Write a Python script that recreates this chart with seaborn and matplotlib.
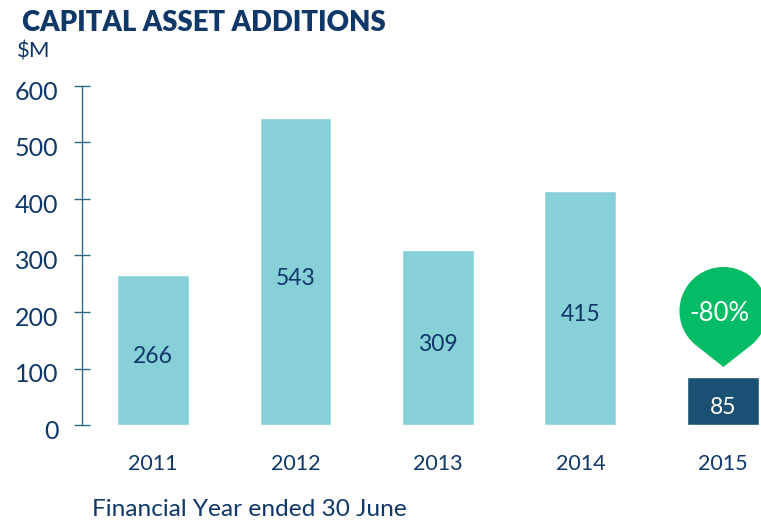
import numpy as np
import pandas as pd
import matplotlib
matplotlib.use('Agg')
import matplotlib.pyplot as plt
import seaborn as sns
from matplotlib.path import Path
from matplotlib.patches import PathPatch
from matplotlib.transforms import Affine2D, ScaledTranslation

years = ['2011', '2012', '2013', '2014', '2015']
additions = [266, 543, 309, 415, 85]
bar_colors = ['#87d0d7', '#87d0d7', '#87d0d7', '#87d0d7', '#1a5173']
y_ticks = [0, 100, 200, 300, 400, 500, 600]
change_label = '-80%'

NAVY = '#0f3768'
AXIS = '#2f6785'
GREEN = '#04bc66'

sns.set_theme(style='white')
plt.rcParams['font.family'] = ['Lato', 'DejaVu Sans']

W, H = 761, 520
fig = plt.figure(figsize=(W / 100, H / 100), dpi=100)
ax = fig.add_axes([81.5 / W, (H - 425) / H, (W - 81.5) / W, 339 / H])

df = pd.DataFrame({'Year': years, 'Additions': additions})
sns.barplot(data=df, x='Year', y='Additions', hue='Year', palette=bar_colors,
            width=0.505, saturation=1, legend=False, ax=ax)

ax.set_xlim(-0.502, 4.267)
ax.set_ylim(0, 600)
ax.set_yticks(y_ticks)
ax.set_xlabel('')
ax.set_ylabel('')
sns.despine(ax=ax, top=True, right=True, bottom=True)
ax.spines['left'].set_color(AXIS)
ax.spines['left'].set_linewidth(1)
ax.tick_params(axis='y', direction='inout', length=11, width=1, color=AXIS,
               pad=11, labelsize=18, labelcolor=NAVY, left=True)
ax.tick_params(axis='x', length=0, pad=21, labelsize=15.5, labelcolor=NAVY, bottom=False)

# old-style figures sit a bit below the tick
for lab in ax.get_yticklabels():
    lab.set_transform(lab.get_transform() + ScaledTranslation(0, -2.9 / 72, fig.dpi_scale_trans))

# value labels
for i, cont in enumerate(ax.containers):
    txt_col = 'white' if years[i] == '2015' else NAVY
    for a in ax.bar_label(cont, label_type='center', fontsize=16.5, color=txt_col):
        a.xyann = (0, -5)

# pin above the last bar, in pixels relative to the bar top
r, d = 44, 56
ang = np.degrees(np.arccos(r / d))
arc = Path.arc(-90 + ang, 270 - ang)
verts = np.vstack([arc.vertices * r, [[0, -d]], arc.vertices[:1] * r])
codes = list(arc.codes) + [Path.LINETO, Path.CLOSEPOLY]
bx, by = ax.transData.transform((4, additions[4]))
pin_tf = Affine2D().translate(bx + 0.5, by + 10 + d)
fig.add_artist(PathPatch(Path(verts, codes), facecolor=GREEN, edgecolor='none', transform=pin_tf))
fig.text((bx - 4) / W, (by + 10 + d - 3) / H, change_label, color='white', fontsize=18.5,
         ha='center', va='center')

fig.text(22 / W, (H - 23) / H, 'CAPITAL ASSET ADDITIONS', color=NAVY, fontsize=19.8,
         fontweight='heavy', ha='left', va='center')
fig.text(17 / W, (H - 51) / H, '$M', color=NAVY, fontsize=16, ha='left', va='center')
fig.text(92 / W, (H - 510) / H, 'Financial Year ended 30 June', color=NAVY, fontsize=17.6,
         ha='left', va='center')

fig.savefig('out.png', dpi=100)
